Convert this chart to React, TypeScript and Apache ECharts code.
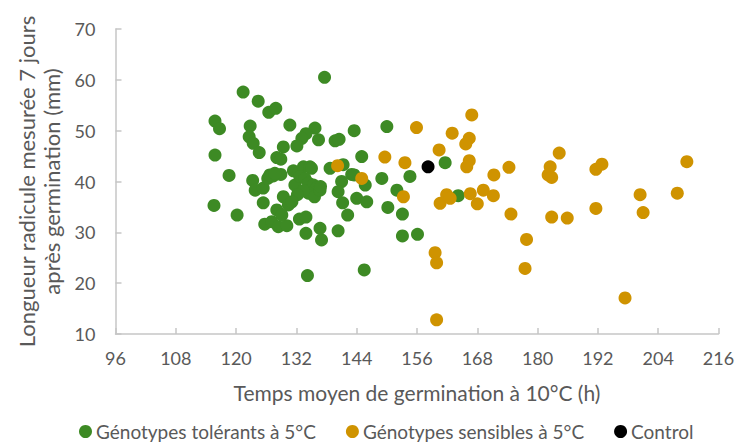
import React, { useEffect, useRef } from "react";
import * as echarts from "echarts";

const xTicks = [96, 108, 120, 132, 144, 156, 168, 180, 192, 204, 216];
const yTicks = [10, 20, 30, 40, 50, 60, 70];

const tolerantNames = "Génotypes tolérants à 5°C";
const sensitiveNames = "Génotypes sensibles à 5°C";
const controlName = "Control";

const tolerant: number[][] = [
  [115.8, 51.9], [116.7, 50.4], [115.8, 45.2], [115.6, 35.3], [118.6, 41.2], [120.2, 33.4],
  [121.4, 57.6], [124.4, 55.8], [126.5, 53.6], [127.9, 54.4], [130.7, 51.1], [122.8, 50.9],
  [122.6, 48.8], [123.4, 47.5], [124.6, 45.7], [135.7, 50.5], [133.9, 49.4], [133.1, 48.5],
  [132.1, 47.0], [136.4, 48.2], [139.7, 48.0], [140.5, 48.3], [143.5, 50.0], [137.6, 60.5],
  [129.4, 46.8], [128.1, 44.7], [128.9, 44.4], [123.3, 40.2], [123.8, 38.3], [125.4, 38.7],
  [126.3, 40.6], [127.4, 41.1], [128.9, 41.4], [126.7, 41.3], [127.7, 41.6],
  [131.4, 42.1], [132.4, 41.6], [133.4, 42.9], [134.7, 42.9], [135.0, 42.6], [131.7, 39.3],
  [132.7, 41.0], [133.7, 40.6], [134.4, 39.7], [135.4, 39.3], [136.0, 38.7], [134.4, 37.7],
  [135.6, 37.0], [136.7, 38.3], [136.8, 39.0], [133.4, 38.2], [132.2, 37.4],
  [138.7, 42.6], [141.3, 43.3], [143.0, 41.4], [141.0, 40.0], [140.3, 38.0], [141.2, 35.8],
  [144.0, 36.7], [146.0, 36.0], [142.2, 33.4], [140.3, 30.3], [137.0, 28.5], [136.7, 30.8],
  [133.9, 29.8], [125.7, 31.6], [127.1, 32.1], [128.4, 31.1], [130.1, 31.3], [132.6, 32.6],
  [133.9, 33.0], [128.1, 34.4], [129.1, 33.4], [129.4, 37.0], [130.4, 35.4], [131.1, 36.0],
  [125.4, 35.8], [134.2, 21.5], [145.5, 22.6], [150.0, 50.8], [145.0, 44.9], [149.0, 40.6],
  [145.7, 39.3], [152.0, 38.3], [150.2, 34.9], [153.1, 33.6], [153.1, 29.3], [156.1, 29.6],
  [154.6, 41.0], [161.6, 43.7], [164.2, 37.2], [143.5, 41.3],
];

const sensitive: number[][] = [
  [140.2, 43.1], [145.0, 40.6], [149.6, 44.8], [153.6, 43.7], [155.9, 50.6], [153.3, 37.0],
  [160.4, 46.2], [163.0, 49.5], [166.9, 53.1], [166.4, 48.5], [165.7, 47.4], [166.4, 44.1],
  [165.9, 42.9], [160.6, 35.7], [161.9, 37.4], [162.6, 36.7], [166.6, 37.6], [169.2, 38.3],
  [171.2, 37.2], [168.0, 35.6], [171.3, 41.3], [174.3, 42.8], [174.7, 33.6], [177.8, 28.6],
  [177.5, 22.9], [182.5, 42.9], [182.1, 41.3], [182.8, 40.8], [184.3, 45.6], [182.8, 33.0],
  [185.9, 32.8], [191.6, 42.4], [192.8, 43.4], [191.6, 34.7], [197.4, 17.1], [200.4, 37.4],
  [201.0, 33.9], [207.8, 37.7], [209.7, 43.9], [159.6, 26.0], [159.9, 24.0], [159.9, 12.8],
];

const control: number[][] = [[158.2, 42.9]];

const FONT = "Lato";
const GREEN = "#3d8a24";
const ORANGE = "#cf9300";
const BLACK = "#000000";
const GREY = "#595959";
const AXIS = "#c6c6c6";

export default function App() {
  const ref = useRef<HTMLDivElement>(null);
  useEffect(() => {
    if (!ref.current) return;
    const chart = echarts.init(ref.current, undefined, { renderer: "svg" });
    chart.setOption({
      animation: false,
      backgroundColor: "#ffffff",
      textStyle: { fontFamily: FONT },
      grid: { left: 115.5, right: 33.5, top: 29, bottom: 109, containLabel: false },
      legend: {
        left: 79,
        top: 422,
        padding: 0,
        itemWidth: 13,
        itemHeight: 13,
        itemGap: 30,
        icon: "circle",
        textStyle: { fontFamily: FONT, fontSize: 19, color: GREY, padding: [0, 0, 0, -1] },
        data: [tolerantNames, sensitiveNames, controlName],
      },
      xAxis: {
        type: "value",
        min: xTicks[0],
        max: xTicks[xTicks.length - 1],
        interval: 12,
        name: "Temps moyen de germination à 10°C (h)",
        nameLocation: "middle",
        nameGap: 48,
        nameTextStyle: { fontFamily: FONT, fontSize: 21, color: GREY },
        axisLine: { show: true, lineStyle: { color: AXIS, width: 1.5 } },
        axisTick: { show: true, inside: true, length: 6, lineStyle: { color: AXIS, width: 1.5 } },
        axisLabel: { fontFamily: FONT, fontSize: 18, color: GREY, margin: 15 },
        splitLine: { show: false },
      },
      yAxis: {
        type: "value",
        min: yTicks[0],
        max: yTicks[yTicks.length - 1],
        interval: 10,
        name: "Longueur radicule mesurée 7 jours\naprès germination (mm)",
        nameLocation: "middle",
        nameGap: 48,
        nameTextStyle: { fontFamily: FONT, fontSize: 22, color: GREY, lineHeight: 25 },
        axisLine: { show: true, lineStyle: { color: AXIS, width: 1.5 } },
        axisTick: { show: true, inside: true, length: 6, lineStyle: { color: AXIS, width: 1.5 } },
        axisLabel: { fontFamily: FONT, fontSize: 18, color: GREY, margin: 20 },
        splitLine: { show: false },
      },
      series: [
        {
          name: tolerantNames,
          type: "scatter",
          data: tolerant,
          symbol: "circle",
          symbolSize: 13,
          itemStyle: { color: GREEN, opacity: 1 },
        },
        {
          name: sensitiveNames,
          type: "scatter",
          data: sensitive,
          symbol: "circle",
          symbolSize: 13,
          itemStyle: { color: ORANGE, opacity: 1 },
        },
        {
          name: controlName,
          type: "scatter",
          data: control,
          symbol: "circle",
          symbolSize: 13,
          itemStyle: { color: BLACK, opacity: 1 },
        },
      ],
    });
    return () => chart.dispose();
  }, []);
  return <div ref={ref} style={{ width: 752, height: 443, position: "absolute", left: 0, top: 0 }} />;
}
